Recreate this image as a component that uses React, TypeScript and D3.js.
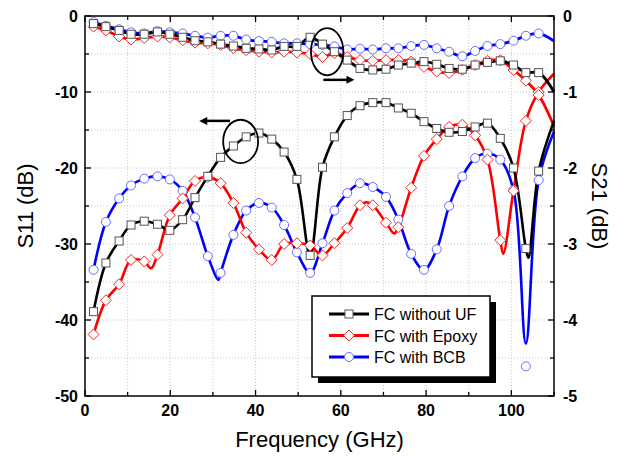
import * as d3 from 'd3';

// marker frequencies (GHz)
const FREQ = [2, 4.9, 8, 10.8, 13.9, 17, 19.9, 22.9, 25.8, 28.8, 31.8, 34.8, 37.8, 40.8, 43.8, 46.7, 49.7, 52.8,
  55.7, 58.5, 61.5, 64.5, 67.5, 70.6, 73.5, 76.5, 79.5, 82.5, 85.4, 88.5, 91.5, 94.4, 97.4, 100.5, 103.4, 106.4];

// S11 (dB), left axis
const S11_NO_UF = [-38.9, -32.5, -29.6, -27.5, -27.0, -27.4, -28.2, -26.8, -23.9, -21.1, -18.6, -17.1, -15.9, -15.4,
  -16.2, -17.9, -21.5, -31.5, -19.9, -15.9, -13.1, -11.8, -11.4, -11.4, -12.1, -12.8, -13.9, -14.8, -15.3, -15.2,
  -14.6, -14.1, -16.1, -20.0, -30.6, -20.4];
const S11_EPOXY = [-41.9, -37.4, -35.3, -32.1, -32.3, -31.4, -26.2, -24.0, -21.7, -21.2, -22.0, -24.6, -28.5, -30.7,
  -32.1, -30.0, -29.9, -30.2, -31.5, -29.9, -27.9, -24.9, -24.9, -27.2, -27.8, -22.6, -18.4, -16.2, -14.6, -14.3,
  -15.7, -18.9, -29.5, -23.0, -13.8, -10.0];
const S11_BCB = [-33.4, -27.1, -24.0, -22.3, -21.4, -21.1, -21.5, -23.0, -26.5, -31.6, -33.8, -28.8, -25.6, -24.6,
  -25.2, -27.5, -31.1, -33.8, -29.9, -25.6, -23.3, -22.0, -22.5, -23.8, -26.8, -31.3, -33.4, -30.7, -25.0, -21.1,
  -18.7, -18.1, -18.9, -22.9, -46.1, -21.6];

// S21 (dB), right axis
const S21_NO_UF = [-0.1, -0.14, -0.19, -0.24, -0.24, -0.21, -0.24, -0.28, -0.325, -0.34, -0.37, -0.395, -0.425, -0.434,
  -0.447, -0.4, -0.4, -0.28, -0.37, -0.47, -0.58, -0.69, -0.71, -0.7, -0.645, -0.62, -0.6, -0.635, -0.69, -0.7,
  -0.645, -0.61, -0.59, -0.645, -0.745, -0.745];
const S21_EPOXY = [-0.14, -0.19, -0.27, -0.31, -0.29, -0.27, -0.28, -0.32, -0.35, -0.36, -0.38, -0.425, -0.45, -0.47,
  -0.48, -0.47, -0.48, -0.5, -0.54, -0.49, -0.54, -0.58, -0.59, -0.58, -0.58, -0.6, -0.67, -0.73, -0.75, -0.71,
  -0.645, -0.59, -0.58, -0.71, -0.85, -1.04];
const S21_BCB = [-0.08, -0.13, -0.175, -0.215, -0.23, -0.2, -0.215, -0.23, -0.26, -0.285, -0.26, -0.26, -0.31, -0.33,
  -0.34, -0.36, -0.36, -0.37, -0.38, -0.4, -0.44, -0.43, -0.44, -0.425, -0.425, -0.395, -0.38, -0.425, -0.47, -0.53,
  -0.46, -0.395, -0.37, -0.325, -0.26, -0.23];

// points on the traces between markers
const S11_NO_UF_EXTRA = [[104.0, -31.8], [110, -13.8]];
const S11_EPOXY_EXTRA = [[15.5, -33.2], [66.0, -24.5], [72.5, -28.6], [98.1, -31.3], [110, -7.6]];
const S11_BCB_EXTRA = [[31.3, -34.7], [103.4, -43.1], [110, -15.2]];
const S21_NO_UF_EXTRA = [[110, -1.0]];
const S21_EPOXY_EXTRA = [[110, -1.45]];
const S21_BCB_EXTRA = [[110, -0.33]];

const LEGEND = ['FC without UF', 'FC with Epoxy', 'FC with BCB'];

const W = 624;
const H = 456;
const M = { left: 85, right: 554, top: 16, bottom: 396 };

const x = d3.scaleLinear().domain([0, 110]).range([M.left, M.right]);
const yL = d3.scaleLinear().domain([-50, 0]).range([M.bottom, M.top]);
const yR = d3.scaleLinear().domain([-5, 0]).range([M.bottom, M.top]);

function tracePoints(vals: number[], extra: number[][]) {
  const pts = FREQ.map((f, i) => [f, vals[i]]);
  extra.forEach(([f, v]) => {
    const hit = pts.find(p => p[0] === f);
    if (hit) hit[1] = v;
    else pts.push([f, v]);
  });
  return pts.sort((a, b) => a[0] - b[0]);
}

const series = [
  { name: 'bcb', color: '#0000ff', mark: 'circle', s11: S11_BCB, s11x: S11_BCB_EXTRA, s21: S21_BCB, s21x: S21_BCB_EXTRA },
  { name: 'epoxy', color: '#ff0000', mark: 'diamond', s11: S11_EPOXY, s11x: S11_EPOXY_EXTRA, s21: S21_EPOXY, s21x: S21_EPOXY_EXTRA },
  { name: 'nouf', color: '#000000', mark: 'square', s11: S11_NO_UF, s11x: S11_NO_UF_EXTRA, s21: S21_NO_UF, s21x: S21_NO_UF_EXTRA },
];

const Marker = ({ type, cx, cy }: { type: string; cx: number; cy: number }) => {
  if (type === 'square')
    return <rect x={cx - 4} y={cy - 4} width={8} height={8} fill="#fff" stroke="#555" strokeWidth={1} />;
  if (type === 'diamond')
    return <path d={`M${cx},${cy - 5.5}L${cx + 5.5},${cy}L${cx},${cy + 5.5}L${cx - 5.5},${cy}Z`} fill="#fff" stroke="#ff2020" strokeWidth={1} />;
  return <circle cx={cx} cy={cy} r={4.5} fill="#fff" stroke="#6b6bff" strokeWidth={1} />;
};

export default function App() {
  const lineL = d3.line<number[]>().x(d => x(d[0])).y(d => yL(d[1])).curve(d3.curveCatmullRom.alpha(0.5));
  const lineR = d3.line<number[]>().x(d => x(d[0])).y(d => yR(d[1])).curve(d3.curveCatmullRom.alpha(0.5));

  const xGrid = d3.range(10, 110, 10);
  const yGrid = d3.range(-45, 0, 5);
  const xTicks = d3.range(0, 111, 10);
  const yTicks = d3.range(-50, 1, 5);
  const rTicks = d3.range(-5, 0.01, 0.5);
  const font = 'Liberation Sans, Arial, sans-serif';

  return (
    <svg width={W} height={H} style={{ position: 'absolute', left: 0, top: 0, background: '#fff' }} fontFamily={font}>
      {/* grid */}
      <g stroke="#c8c8c8" strokeWidth={1} strokeDasharray="1,2">
        {xGrid.map(v => <line key={'gx' + v} x1={x(v)} x2={x(v)} y1={M.top} y2={M.bottom} />)}
        {yGrid.map(v => <line key={'gy' + v} x1={M.left} x2={M.right} y1={yL(v)} y2={yL(v)} />)}
      </g>

      {/* traces */}
      {series.map(s => (
        <g key={s.name}>
          <path d={lineL(tracePoints(s.s11, s.s11x)) || ''} fill="none" stroke={s.color} strokeWidth={2.6} strokeLinejoin="round" />
          <path d={lineR(tracePoints(s.s21, s.s21x)) || ''} fill="none" stroke={s.color} strokeWidth={2.8} strokeLinejoin="round" />
        </g>
      ))}
      {series.map(s => (
        <g key={s.name + 'm'}>
          {FREQ.map((f, i) => <Marker key={'a' + i} type={s.mark} cx={x(f)} cy={yL(s.s11[i])} />)}
          {FREQ.map((f, i) => <Marker key={'b' + i} type={s.mark} cx={x(f)} cy={yR(s.s21[i])} />)}
        </g>
      ))}

      {/* annotations */}
      <g fill="none" stroke="#000" strokeWidth={1.8}>
        <ellipse cx={x(56.8)} cy={yR(-0.47)} rx={x(3.8) - x(0)} ry={yR(0) - yR(0.31)} />
        <ellipse cx={x(36.5)} cy={yL(-16.5)} rx={x(4.1) - x(0)} ry={yL(0) - yL(2.85)} />
        <line x1={x(55.9)} x2={x(61.8)} y1={yR(-0.84)} y2={yR(-0.84)} strokeWidth={2.5} />
        <line x1={x(34)} x2={x(27.8)} y1={yL(-13.8)} y2={yL(-13.8)} strokeWidth={2.5} />
      </g>
      <path d={`M${x(63.2)},${yR(-0.84)}l-8,-4l0,8Z`} fill="#000" />
      <path d={`M${x(26.8)},${yL(-13.8)}l8,-4l0,8Z`} fill="#000" />

      {/* frame and ticks */}
      <rect x={M.left} y={M.top} width={M.right - M.left} height={M.bottom - M.top} fill="none" stroke="#000" strokeWidth={1.5} />
      <g stroke="#000" strokeWidth={1.3}>
        {xTicks.map(v => {
          const len = v % 20 === 0 ? 6 : 4;
          return (
            <g key={'xt' + v}>
              <line x1={x(v)} x2={x(v)} y1={M.bottom} y2={M.bottom - len} />
              <line x1={x(v)} x2={x(v)} y1={M.top} y2={M.top + len} />
            </g>
          );
        })}
        {yTicks.map(v => (
          <line key={'yt' + v} x1={M.left} x2={M.left + (v % 10 === 0 ? 6 : 4)} y1={yL(v)} y2={yL(v)} />
        ))}
        {rTicks.map(v => (
          <line key={'rt' + v} x1={M.right} x2={M.right - (Math.abs(v % 1) < 0.01 ? 6 : 4)} y1={yR(v)} y2={yR(v)} />
        ))}
      </g>

      {/* tick labels */}
      <g fontSize={16} fontWeight="bold" fill="#000">
        {d3.range(0, 101, 20).map(v => (
          <text key={'xl' + v} x={x(v)} y={M.bottom + 20} textAnchor="middle">{v}</text>
        ))}
        {d3.range(-50, 1, 10).map(v => (
          <text key={'yl' + v} x={M.left - 7} y={yL(v) + 6} textAnchor="end">{v}</text>
        ))}
        {d3.range(-5, 1, 1).map(v => (
          <text key={'rl' + v} x={M.right + 9} y={yR(v) + 6} textAnchor="start">{v}</text>
        ))}
      </g>

      {/* axis titles */}
      <text x={(M.left + M.right) / 2} y={447} textAnchor="middle" fontSize={22}>Frequency (GHz)</text>
      <text transform={`translate(33,${(M.top + M.bottom) / 2}) rotate(-90)`} textAnchor="middle" fontSize={22}>S11 (dB)</text>
      <text transform={`translate(592,${(M.top + M.bottom) / 2}) rotate(90)`} textAnchor="middle" fontSize={22}>S21 (dB)</text>

      {/* legend */}
      <g>
        <rect x={318} y={302} width={178} height={81} fill="#000" />
        <rect x={312} y={296} width={178} height={81} fill="#fff" stroke="#000" strokeWidth={1.5} />
        {[series[2], series[1], series[0]].map((s, i) => {
          const ly = 314 + i * 21.5;
          return (
            <g key={'lg' + s.name}>
              <line x1={329} x2={369} y1={ly} y2={ly} stroke={s.color} strokeWidth={2.8} />
              <Marker type={s.mark} cx={349} cy={ly} />
              <text x={374} y={ly + 6} fontSize={16}>{LEGEND[i]}</text>
            </g>
          );
        })}
      </g>
    </svg>
  );
}
